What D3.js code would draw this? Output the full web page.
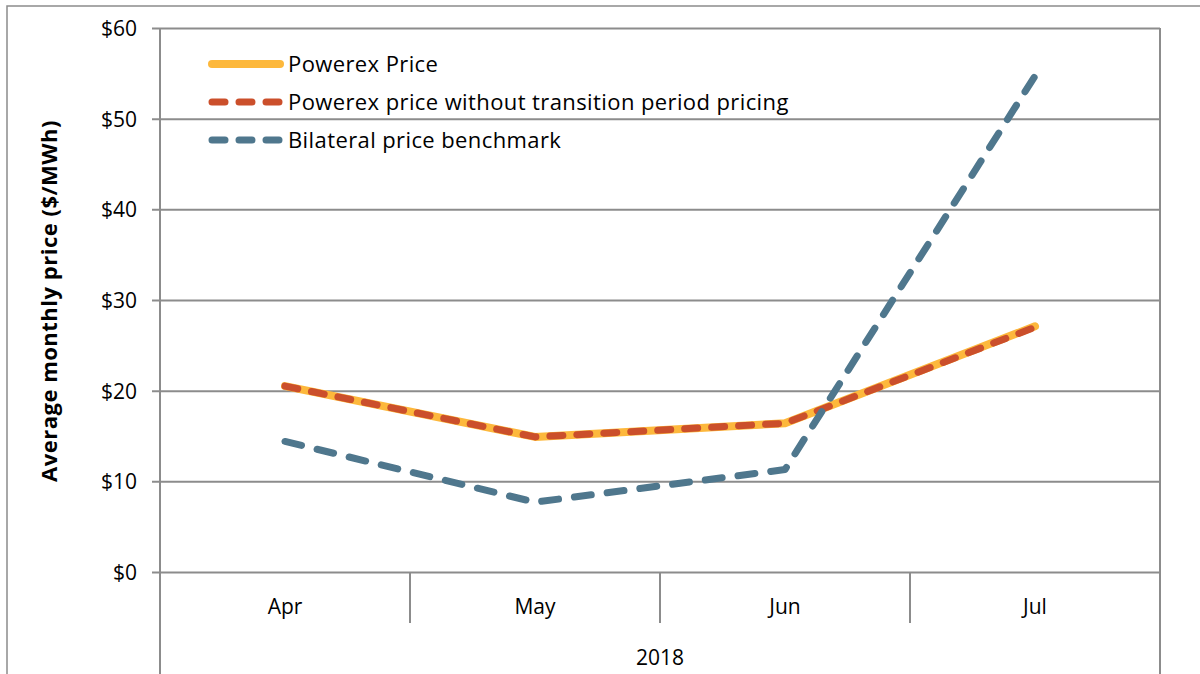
<!DOCTYPE html>
<html>
<head>
  <meta charset="UTF-8">
  <title>powerex-price</title>
  <style>
    body { margin: 0; background: #fff; }
    svg text { font-family: "Open Sans", Lato, sans-serif; fill: #000; }
  </style>
</head>
<body>
  <div class="svg-zone"></div>
  <script src="https://cdn.jsdelivr.net/npm/d3@7"></script>
  <script type="text/javascript">
  // values
  let months = ["Apr", "May", "Jun", "Jul"];
  let yearLabel = "2018";
  let powerexPrice = [20.5, 14.9, 16.4, 27.1];
  let powerexNoTransition = [20.5, 14.9, 16.4, 27.0];
  let bilateralBenchmark = [14.4, 7.7, 11.3, 54.7];
  let yTicks = [0, 10, 20, 30, 40, 50, 60];

  let seriesNames = ["Powerex Price", "Powerex price without transition period pricing", "Bilateral price benchmark"];

  var width = 1200,
    height = 674,
    plotLeft = 160, plotRight = 1160,
    plotTop = 28, plotBottom = 572;

  var grey = "#8c8c8c";

  var svg = d3.select(".svg-zone").append("svg")
    .attr("width", width)
    .attr("height", height);

  // outer frame
  svg.append("rect")
    .attr("x", 7).attr("y", 6)
    .attr("width", 1210).attr("height", 700)
    .attr("fill", "none")
    .attr("stroke", grey)
    .attr("stroke-width", 1.5);

  var x = d3.scaleBand().domain(months).range([plotLeft, plotRight]).padding(0);
  var y = d3.scaleLinear().domain([0, 60]).range([plotBottom, plotTop]);
  var cx = function (m) { return x(m) + x.bandwidth() / 2; };

  // y axis with gridlines
  let yAxis = d3.axisLeft(y)
    .tickValues(yTicks)
    .tickSize(-(plotRight - plotLeft))
    .tickFormat(function (d) { return "$" + d; });
  let gy = svg.append("g")
    .attr("transform", "translate(" + plotLeft + ",0)")
    .call(yAxis);
  gy.select(".domain").remove();
  gy.selectAll(".tick line")
    .attr("x1", -8)
    .attr("stroke", grey).attr("stroke-width", 2);
  gy.selectAll(".tick text")
    .style("font-size", "21px")
    .attr("x", -23)
    .attr("dy", "0.35em");

  // left and right borders of the plot area (running to the bottom)
  svg.append("line").attr("x1", plotLeft).attr("x2", plotLeft).attr("y1", plotTop).attr("y2", height)
    .attr("stroke", grey).attr("stroke-width", 2);
  svg.append("line").attr("x1", plotRight).attr("x2", plotRight).attr("y1", plotTop).attr("y2", height)
    .attr("stroke", grey).attr("stroke-width", 2);

  // month separators
  svg.append("g").selectAll("line")
    .data(months.slice(1))
    .enter().append("line")
    .attr("x1", function (d) { return x(d); })
    .attr("x2", function (d) { return x(d); })
    .attr("y1", plotBottom).attr("y2", 623)
    .attr("stroke", grey).attr("stroke-width", 2);

  // month labels
  svg.append("g").selectAll("text")
    .data(months)
    .enter().append("text")
    .attr("x", cx)
    .attr("y", 614)
    .attr("text-anchor", "middle")
    .style("font-size", "21px")
    .text(function (d) { return d; });

  svg.append("text")
    .attr("x", (plotLeft + plotRight) / 2)
    .attr("y", 665)
    .attr("text-anchor", "middle")
    .style("font-size", "21px")
    .text(yearLabel);

  // y axis title
  svg.append("text")
    .attr("transform", "translate(57," + 301 + ") rotate(-90)")
    .attr("text-anchor", "middle")
    .style("font-size", "22px")
    .style("font-weight", "bold")
    .style("letter-spacing", "0.5px")
    .text("Average monthly price ($/MWh)");

  let line = d3.line()
    .x(function (d, i) { return cx(months[i]); })
    .y(function (d) { return y(d); });

  let styles = [
    { color: "#FDB83C", w: 8, dash: null },
    { color: "#CB4F2B", w: 7, dash: "13,14" },
    { color: "#4F778D", w: 7, dash: "17,16" }
  ];
  let allSeries = [powerexPrice, powerexNoTransition, bilateralBenchmark];

  svg.append("g").selectAll("path")
    .data(allSeries)
    .enter().append("path")
    .attr("d", function (d) { return line(d); })
    .attr("fill", "none")
    .attr("stroke", function (d, i) { return styles[i].color; })
    .attr("stroke-width", function (d, i) { return styles[i].w; })
    .attr("stroke-dasharray", function (d, i) { return styles[i].dash; })
    .attr("stroke-linecap", "round")
    .attr("stroke-linejoin", "round");

  // legend
  let lg = svg.append("g").selectAll("g")
    .data(seriesNames)
    .enter().append("g")
    .attr("transform", function (d, i) { return "translate(0," + (64 + i * 38) + ")"; });
  lg.append("line")
    .attr("x1", 212).attr("x2", 280)
    .attr("y1", 0).attr("y2", 0)
    .attr("stroke", function (d, i) { return styles[i].color; })
    .attr("stroke-width", function (d, i) { return styles[i].w; })
    .attr("stroke-dasharray", function (d, i) { return styles[i].dash ? "13,14" : null; })
    .attr("stroke-linecap", "round");
  lg.append("text")
    .attr("x", 288)
    .attr("y", 0)
    .attr("dy", "0.35em")
    .style("font-size", "22px")
    .style("letter-spacing", "0.4px")
    .text(function (d) { return d; });
  </script>
</body>
</html>
